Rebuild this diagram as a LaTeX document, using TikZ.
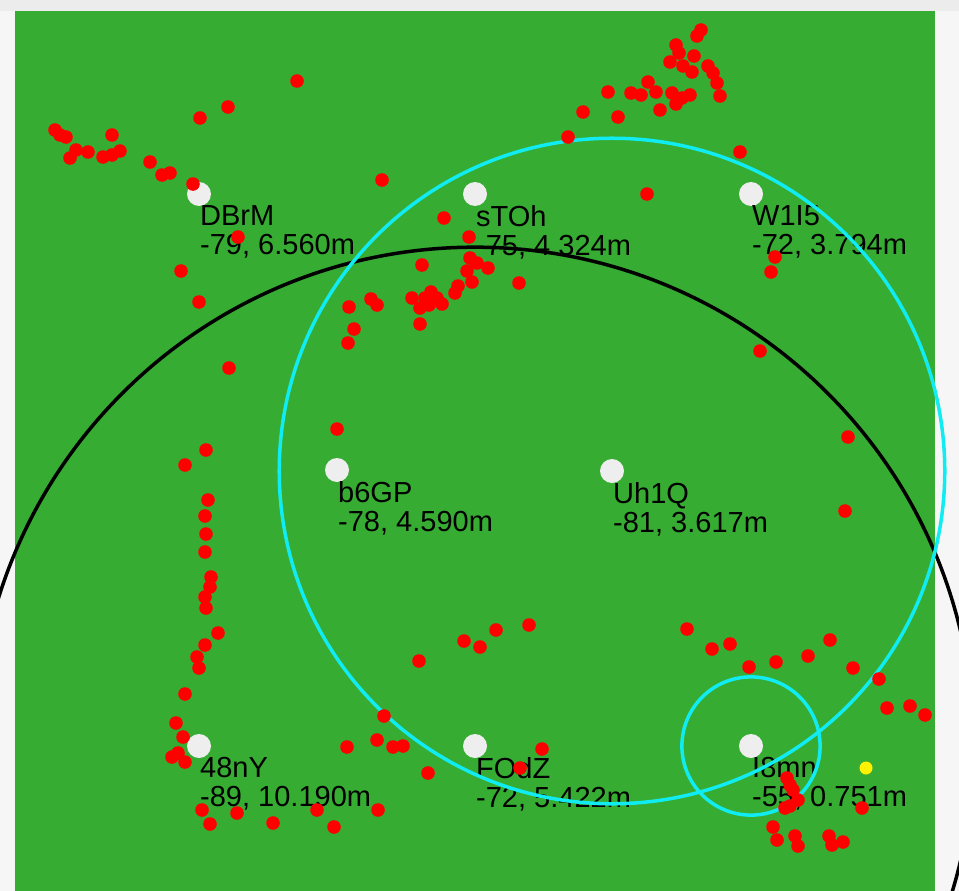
\documentclass[tikz,border=0pt]{standalone}
\usepackage{fontspec}
\setmainfont{Liberation Sans}
\usetikzlibrary{positioning}
\definecolor{field}{RGB}{54,172,50}
\definecolor{rim}{RGB}{246,246,246}
\definecolor{rimtop}{RGB}{236,236,236}
\definecolor{anchorgrey}{RGB}{238,238,238}
\definecolor{rangecyan}{RGB}{16,236,242}

\begin{document}
\begin{tikzpicture}[x=1pt, y=-1pt,
    anc/.style={circle, fill=anchorgrey, minimum size=24pt, inner sep=0pt},
    lbl/.style={anchor=north west, inner sep=0pt, align=left,
                font=\fontsize{29}{29.5}\selectfont},
    rng/.style={line width=3.5pt, rangecyan},
    est/.style={line width=3.5pt, black},
    hit/.style={fill=red},
  ]
    \useasboundingbox (0,0) rectangle (959,891);
    \clip (0,0) rectangle (959,891);

    % Background
    \fill[rim] (0,0) rectangle (959,891);
    \fill[rimtop] (0,0) rectangle (959,11);
    \fill[field] (15,11) rectangle (935,891);

    % Anchors
    \node[anc] (dbrm) at (199,194) {};
    \node[anc] (stoh) at (475,194) {};
    \node[anc] (w1i5) at (751,194) {};
    \node[anc] (b6gp) at (337,470) {};
    \node[anc] (uh1q) at (612,471) {};
    \node[anc] (n48y) at (199,746) {};
    \node[anc] (fodz) at (475,746) {};
    \node[anc] (i8mn) at (751,746) {};

    % Anchor labels: name, rssi and distance
    \node[lbl] (dbrm-l) at ([shift={(1,11)}]dbrm.center) {DBrM\\-79, 6.560m};
    \node[lbl] (stoh-l) at ([shift={(1,11)}]stoh.center) {sTOh\\-75, 4.324m};
    \node[lbl] (w1i5-l) at ([shift={(1,11)}]w1i5.center) {W1I5\\-72, 3.794m};
    \node[lbl] (b6gp-l) at ([shift={(1,11)}]b6gp.center) {b6GP\\-78, 4.590m};
    \node[lbl] (uh1q-l) at ([shift={(1,11)}]uh1q.center) {Uh1Q\\-81, 3.617m};
    \node[lbl] (n48y-l) at ([shift={(1,11)}]n48y.center) {48nY\\-89, 10.190m};
    \node[lbl] (fodz-l) at ([shift={(1,11)}]fodz.center) {FOdZ\\-72, 5.422m};
    \node[lbl] (i8mn-l) at ([shift={(1,11)}]i8mn.center) {I8mn\\-55, 0.751m};

    % Range circles (92 px per metre)
    \draw[est] (fodz.center) circle[radius=5.422*92];
    \draw[rng] (uh1q.center) circle[radius=3.617*92];
    \draw[rng] (i8mn.center) circle[radius=0.751*92];

    % Position samples
    \foreach \px/\py in {
        701/30, 697/36, 676/45, 679/53, 694/56, 670/62, 683/66, 708/66,
        713/73, 692/72, 717/83, 720/96, 648/82, 631/93, 608/92, 641/95,
        656/92, 672/93, 682/98, 690/95, 676/104, 660/110, 618/117, 583/112,
        568/137, 740/152, 647/194,
        297/81, 228/107, 200/118, 55/130, 60/135, 66/137, 112/135, 76/150,
        88/152, 70/158, 103/157, 112/155, 120/151, 150/162, 162/175, 170/173,
        193/184, 382/180, 238/237, 181/271, 199/302, 229/368,
        444/218, 469/237, 470/258, 477/263, 488/268, 467/271, 472/282,
        458/286, 455/293, 422/265, 431/292, 412/298, 425/298, 420/308,
        429/305, 442/304, 437/298, 519/283, 371/299, 377/305, 349/307,
        354/329, 348/343, 420/324, 337/429,
        775/257, 771/272, 760/351, 848/437, 845/511,
        206/450, 185/465, 208/500, 205/516, 206/534, 205/552, 211/577,
        210/587, 205/597, 206/608, 218/633, 205/645, 197/657, 199/668,
        185/694, 176/723, 183/737, 178/753, 172/757, 185/762,
        202/810, 210/824, 237/813, 273/823, 317/810, 334/827, 378/810,
        347/747, 377/740, 393/747, 403/746, 384/716, 428/773,
        419/661, 464/641, 480/647, 496/630, 529/625, 520/768, 542/749,
        687/629, 712/649, 730/644, 749/667, 776/662, 808/656, 830/640,
        853/668, 879/679, 887/708, 910/706, 925/715,
        787/778, 790/785, 793/790, 798/800, 790/806, 785/808, 862/808,
        773/827, 777/840, 795/836, 798/846, 829/836, 832/845, 843/842}
      \fill[hit] (\px,\py) circle[radius=6.8];

    % Current estimate
    \fill[yellow] (866,768) circle[radius=6.5];
  \end{tikzpicture}
\end{document}
